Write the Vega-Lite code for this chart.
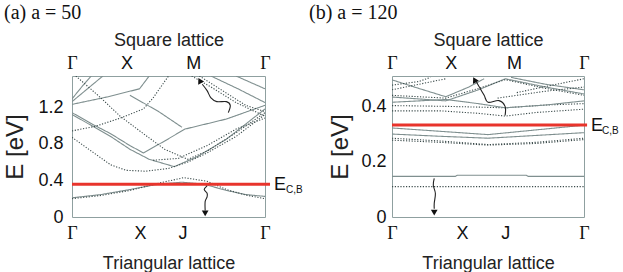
{
  "$schema": "https://vega.github.io/schema/vega-lite/v6.json",
  "padding": {"left": 3, "top": 2, "right": 0, "bottom": 0},
  "spacing": 4,
  "config": {
    "view": {"stroke": "#8fa0a0", "strokeWidth": 1},
    "axis": {"domain": false, "ticks": false, "grid": false, "labelFont": "Liberation Sans", "titleFont": "Liberation Sans", "labelColor": "#111", "titleColor": "#222", "titleFontWeight": "normal", "labelFontSize": 18, "titleFontSize": 18},
    "title": {"font": "Liberation Serif", "fontSize": 20, "fontWeight": "normal", "color": "#111"}
  },
  "datasets": {
    "bands": [
      {"p":"a","b":"s1","k":"s","t":0,"E":0.21},{"p":"a","b":"s1","k":"s","t":0.15,"E":0.245},{"p":"a","b":"s1","k":"s","t":0.3,"E":0.3},{"p":"a","b":"s1","k":"s","t":0.45,"E":0.36},{"p":"a","b":"s1","k":"s","t":0.57,"E":0.38},{"p":"a","b":"s1","k":"s","t":0.68,"E":0.36},{"p":"a","b":"s1","k":"s","t":0.8,"E":0.29},{"p":"a","b":"s1","k":"s","t":0.9,"E":0.245},{"p":"a","b":"s1","k":"s","t":1,"E":0.225},
      {"p":"a","b":"d1","k":"d","t":0,"E":0.2},{"p":"a","b":"d1","k":"d","t":0.15,"E":0.235},{"p":"a","b":"d1","k":"d","t":0.3,"E":0.29},{"p":"a","b":"d1","k":"d","t":0.45,"E":0.37},{"p":"a","b":"d1","k":"d","t":0.58,"E":0.43},{"p":"a","b":"d1","k":"d","t":0.7,"E":0.39},{"p":"a","b":"d1","k":"d","t":0.8,"E":0.3},{"p":"a","b":"d1","k":"d","t":0.9,"E":0.24},{"p":"a","b":"d1","k":"d","t":1,"E":0.2},
      {"p":"a","b":"s2","k":"s","t":0,"E":1.14},{"p":"a","b":"s2","k":"s","t":0.1,"E":1.02},{"p":"a","b":"s2","k":"s","t":0.2,"E":0.91},{"p":"a","b":"s2","k":"s","t":0.3,"E":0.78},{"p":"a","b":"s2","k":"s","t":0.37,"E":0.7},{"p":"a","b":"s2","k":"s","t":0.48,"E":0.83},{"p":"a","b":"s2","k":"s","t":0.585,"E":0.96},{"p":"a","b":"s2","k":"s","t":0.8,"E":1.07},{"p":"a","b":"s2","k":"s","t":1,"E":1.22},
      {"p":"a","b":"s3","k":"s","t":0,"E":1.12},{"p":"a","b":"s3","k":"s","t":0.1,"E":1.0},{"p":"a","b":"s3","k":"s","t":0.2,"E":0.88},{"p":"a","b":"s3","k":"s","t":0.3,"E":0.74},{"p":"a","b":"s3","k":"s","t":0.4,"E":0.63},{"p":"a","b":"s3","k":"s","t":0.53,"E":0.55},{"p":"a","b":"s3","k":"s","t":0.65,"E":0.66},{"p":"a","b":"s3","k":"s","t":0.8,"E":0.85},{"p":"a","b":"s3","k":"s","t":1,"E":1.18},
      {"p":"a","b":"s4","k":"s","t":0,"E":1.23},{"p":"a","b":"s4","k":"s","t":0.18,"E":1.31},{"p":"a","b":"s4","k":"s","t":0.35,"E":1.4},{"p":"a","b":"s4","k":"s","t":0.4,"E":1.54},
      {"p":"a","b":"s5","k":"s","t":0.3,"E":1.33},{"p":"a","b":"s5","k":"s","t":0.45,"E":1.15},{"p":"a","b":"s5","k":"s","t":0.57,"E":0.98},
      {"p":"a","b":"s6","k":"s","t":0,"E":1.26},{"p":"a","b":"s6","k":"s","t":0.08,"E":1.4},{"p":"a","b":"s6","k":"s","t":0.16,"E":1.54},
      {"p":"a","b":"s7","k":"s","t":0,"E":1.29},{"p":"a","b":"s7","k":"s","t":0.05,"E":1.42},{"p":"a","b":"s7","k":"s","t":0.1,"E":1.54},
      {"p":"a","b":"s8","k":"s","t":0.72,"E":1.54},{"p":"a","b":"s8","k":"s","t":0.86,"E":1.4},{"p":"a","b":"s8","k":"s","t":1,"E":1.25},
      {"p":"a","b":"s9","k":"s","t":0.85,"E":1.54},{"p":"a","b":"s9","k":"s","t":1,"E":1.4},
      {"p":"a","b":"d2","k":"d","t":0,"E":0.94},{"p":"a","b":"d2","k":"d","t":0.12,"E":0.99},{"p":"a","b":"d2","k":"d","t":0.25,"E":1.08},{"p":"a","b":"d2","k":"d","t":0.37,"E":1.18},{"p":"a","b":"d2","k":"d","t":0.42,"E":1.3},{"p":"a","b":"d2","k":"d","t":0.5,"E":1.54},
      {"p":"a","b":"d3","k":"d","t":0,"E":0.87},{"p":"a","b":"d3","k":"d","t":0.1,"E":0.72},{"p":"a","b":"d3","k":"d","t":0.2,"E":0.57},{"p":"a","b":"d3","k":"d","t":0.28,"E":0.51},{"p":"a","b":"d3","k":"d","t":0.38,"E":0.5},{"p":"a","b":"d3","k":"d","t":0.5,"E":0.53},{"p":"a","b":"d3","k":"d","t":0.6,"E":0.6},{"p":"a","b":"d3","k":"d","t":0.7,"E":0.7},{"p":"a","b":"d3","k":"d","t":0.85,"E":0.88},{"p":"a","b":"d3","k":"d","t":1,"E":1.12},
      {"p":"a","b":"d4","k":"d","t":0.02,"E":1.54},{"p":"a","b":"d4","k":"d","t":0.15,"E":1.3},{"p":"a","b":"d4","k":"d","t":0.25,"E":1.1},{"p":"a","b":"d4","k":"d","t":0.37,"E":0.91},{"p":"a","b":"d4","k":"d","t":0.48,"E":0.74},{"p":"a","b":"d4","k":"d","t":0.6,"E":0.63},{"p":"a","b":"d4","k":"d","t":0.7,"E":0.72},{"p":"a","b":"d4","k":"d","t":0.85,"E":0.92},{"p":"a","b":"d4","k":"d","t":1,"E":1.14},
      {"p":"a","b":"d6","k":"d","t":0.62,"E":1.54},{"p":"a","b":"d6","k":"d","t":0.72,"E":1.42},{"p":"a","b":"d6","k":"d","t":0.85,"E":1.25},{"p":"a","b":"d6","k":"d","t":1,"E":1.1},
      {"p":"a","b":"d7","k":"d","t":0.66,"E":1.54},{"p":"a","b":"d7","k":"d","t":0.78,"E":1.38},{"p":"a","b":"d7","k":"d","t":0.9,"E":1.22},{"p":"a","b":"d7","k":"d","t":1,"E":1.15},
      {"p":"a","b":"d8","k":"d","t":0.42,"E":0.62},{"p":"a","b":"d8","k":"d","t":0.55,"E":0.64},{"p":"a","b":"d8","k":"d","t":0.7,"E":0.78},{"p":"a","b":"d8","k":"d","t":0.85,"E":0.96},{"p":"a","b":"d8","k":"d","t":1,"E":1.08},

      {"p":"b","b":"s1","k":"s","t":0,"E":0.147},{"p":"b","b":"s1","k":"s","t":0.33,"E":0.147},{"p":"b","b":"s1","k":"s","t":0.34,"E":0.151},{"p":"b","b":"s1","k":"s","t":0.7,"E":0.151},{"p":"b","b":"s1","k":"s","t":0.71,"E":0.147},{"p":"b","b":"s1","k":"s","t":1,"E":0.147},
      {"p":"b","b":"d1","k":"d","t":0,"E":0.11},{"p":"b","b":"d1","k":"d","t":1,"E":0.11},
      {"p":"b","b":"s2","k":"s","t":0,"E":0.322},{"p":"b","b":"s2","k":"s","t":0.25,"E":0.31},{"p":"b","b":"s2","k":"s","t":0.5,"E":0.298},{"p":"b","b":"s2","k":"s","t":0.75,"E":0.315},{"p":"b","b":"s2","k":"s","t":1,"E":0.332},
      {"p":"b","b":"s3","k":"s","t":0,"E":0.3},{"p":"b","b":"s3","k":"s","t":0.25,"E":0.292},{"p":"b","b":"s3","k":"s","t":0.5,"E":0.285},{"p":"b","b":"s3","k":"s","t":0.75,"E":0.295},{"p":"b","b":"s3","k":"s","t":1,"E":0.305},
      {"p":"b","b":"d2","k":"d","t":0,"E":0.285},{"p":"b","b":"d2","k":"d","t":0.25,"E":0.275},{"p":"b","b":"d2","k":"d","t":0.5,"E":0.262},{"p":"b","b":"d2","k":"d","t":0.75,"E":0.27},{"p":"b","b":"d2","k":"d","t":1,"E":0.285},
      {"p":"b","b":"d3","k":"d","t":0,"E":0.278},{"p":"b","b":"d3","k":"d","t":0.25,"E":0.27},{"p":"b","b":"d3","k":"d","t":0.5,"E":0.26},{"p":"b","b":"d3","k":"d","t":0.75,"E":0.266},{"p":"b","b":"d3","k":"d","t":1,"E":0.28},
      {"p":"b","b":"d4","k":"d","t":0,"E":0.384},{"p":"b","b":"d4","k":"d","t":0.25,"E":0.384},{"p":"b","b":"d4","k":"d","t":0.45,"E":0.375},{"p":"b","b":"d4","k":"d","t":0.59,"E":0.365},{"p":"b","b":"d4","k":"d","t":0.75,"E":0.378},{"p":"b","b":"d4","k":"d","t":1,"E":0.39},
      {"p":"b","b":"d5","k":"d","t":0,"E":0.403},{"p":"b","b":"d5","k":"d","t":0.3,"E":0.4},{"p":"b","b":"d5","k":"d","t":0.59,"E":0.395},{"p":"b","b":"d5","k":"d","t":0.8,"E":0.405},{"p":"b","b":"d5","k":"d","t":1,"E":0.41},
      {"p":"b","b":"s4","k":"s","t":0,"E":0.415},{"p":"b","b":"s4","k":"s","t":0.28,"E":0.425},{"p":"b","b":"s4","k":"s","t":0.45,"E":0.41},{"p":"b","b":"s4","k":"s","t":0.59,"E":0.395},{"p":"b","b":"s4","k":"s","t":0.8,"E":0.405},{"p":"b","b":"s4","k":"s","t":1,"E":0.42},
      {"p":"b","b":"s5","k":"s","t":0,"E":0.434},{"p":"b","b":"s5","k":"s","t":0.28,"E":0.42},{"p":"b","b":"s5","k":"s","t":0.45,"E":0.46},{"p":"b","b":"s5","k":"s","t":0.59,"E":0.5},{"p":"b","b":"s5","k":"s","t":0.8,"E":0.47},{"p":"b","b":"s5","k":"s","t":1,"E":0.445},
      {"p":"b","b":"d6","k":"d","t":0,"E":0.44},{"p":"b","b":"d6","k":"d","t":0.28,"E":0.43},{"p":"b","b":"d6","k":"d","t":0.45,"E":0.465},{"p":"b","b":"d6","k":"d","t":0.59,"E":0.497},{"p":"b","b":"d6","k":"d","t":0.8,"E":0.465},{"p":"b","b":"d6","k":"d","t":1,"E":0.44},
      {"p":"b","b":"s6","k":"s","t":0,"E":0.496},{"p":"b","b":"s6","k":"s","t":0.14,"E":0.465},{"p":"b","b":"s6","k":"s","t":0.28,"E":0.435},{"p":"b","b":"s6","k":"s","t":0.4,"E":0.47},{"p":"b","b":"s6","k":"s","t":0.48,"E":0.5},
      {"p":"b","b":"d7","k":"d","t":0,"E":0.477},{"p":"b","b":"d7","k":"d","t":0.14,"E":0.49},{"p":"b","b":"d7","k":"d","t":0.2,"E":0.505},
      {"p":"b","b":"d8","k":"d","t":0,"E":0.46},{"p":"b","b":"d8","k":"d","t":0.14,"E":0.48},{"p":"b","b":"d8","k":"d","t":0.28,"E":0.5},
      {"p":"b","b":"s7","k":"s","t":0.62,"E":0.505},{"p":"b","b":"s7","k":"s","t":0.8,"E":0.48},{"p":"b","b":"s7","k":"s","t":1,"E":0.46},
      {"p":"b","b":"d9","k":"d","t":0.65,"E":0.45},{"p":"b","b":"d9","k":"d","t":0.82,"E":0.475},{"p":"b","b":"d9","k":"d","t":1,"E":0.5},
      {"p":"b","b":"d10","k":"d","t":0.55,"E":0.43},{"p":"b","b":"d10","k":"d","t":0.8,"E":0.455},{"p":"b","b":"d10","k":"d","t":1,"E":0.47}
    ],
    "arrows": [
      {"p":"a","id":"u","i":0,"t":0.81,"E":1.14},{"p":"a","id":"u","i":1,"t":0.82,"E":1.22},{"p":"a","id":"u","i":2,"t":0.8,"E":1.26},{"p":"a","id":"u","i":3,"t":0.75,"E":1.26},{"p":"a","id":"u","i":4,"t":0.72,"E":1.3},{"p":"a","id":"u","i":5,"t":0.7,"E":1.38},{"p":"a","id":"u","i":6,"t":0.675,"E":1.45},
      {"p":"a","id":"d","i":0,"t":0.7,"E":0.34},{"p":"a","id":"d","i":1,"t":0.685,"E":0.3},{"p":"a","id":"d","i":2,"t":0.7,"E":0.26},{"p":"a","id":"d","i":3,"t":0.7,"E":0.22},{"p":"a","id":"d","i":4,"t":0.69,"E":0.17},{"p":"a","id":"d","i":5,"t":0.69,"E":0.07},
      {"p":"b","id":"u","i":0,"t":0.589,"E":0.367},{"p":"b","id":"u","i":1,"t":0.589,"E":0.4},{"p":"b","id":"u","i":2,"t":0.557,"E":0.421},{"p":"b","id":"u","i":3,"t":0.5,"E":0.415},{"p":"b","id":"u","i":4,"t":0.48,"E":0.44},{"p":"b","id":"u","i":5,"t":0.455,"E":0.47},{"p":"b","id":"u","i":6,"t":0.44,"E":0.488},
      {"p":"b","id":"d","i":0,"t":0.22,"E":0.14},{"p":"b","id":"d","i":1,"t":0.215,"E":0.115},{"p":"b","id":"d","i":2,"t":0.226,"E":0.085},{"p":"b","id":"d","i":3,"t":0.22,"E":0.05},{"p":"b","id":"d","i":4,"t":0.22,"E":0.03}
    ],
    "heads": [
      {"p":"a","dir":"up","t":0.662,"E":1.49},
      {"p":"a","dir":"down","t":0.69,"E":0.04},
      {"p":"b","dir":"up","t":0.43,"E":0.496},
      {"p":"b","dir":"down","t":0.22,"E":0.016}
    ],
    "ref": [
      {"p":"a","x1":0,"x2":1.026,"E":0.357},
      {"p":"b","x1":0,"x2":1.016,"E":0.333}
    ]
  },
  "hconcat": [
    {
      "title": {"text": "(a) a = 50", "anchor": "start", "frame": "bounds", "offset": 8},
      "width": 193,
      "height": 141,
      "resolve": {"axis": {"x": "independent"}},
      "layer": [
        {
          "data": {"name": "bands"},
          "transform": [{"filter": "datum.p == 'a'"}],
          "mark": {"type": "line", "strokeWidth": 1.1, "clip": true},
          "encoding": {
            "x": {"field": "t", "type": "quantitative", "scale": {"domain": [0, 1], "nice": false},
              "axis": {"orient": "bottom", "values": [0, 0.352, 0.573, 1], "labelExpr": "datum.value == 0 || datum.value == 1 ? 'Γ' : datum.value < 0.45 ? 'X' : 'J'", "labelFont": {"condition": {"test": "datum.value == 0 || datum.value == 1", "value": "Liberation Serif"}, "value": "Liberation Sans"}, "labelFlush": false, "labelPadding": 7, "title": "Triangular lattice", "titlePadding": 12}},
            "y": {"field": "E", "type": "quantitative", "scale": {"domain": [0, 1.54], "nice": false, "zero": false},
              "axis": {"values": [0, 0.4, 0.8, 1.2], "labelExpr": "datum.value == 0 ? '0' : format(datum.value, '.1f')", "labelPadding": 9, "title": "E [eV]", "titleFontSize": 24, "titlePadding": 10}},
            "detail": {"field": "b"},
            "color": {"field": "k", "type": "nominal", "scale": {"domain": ["s", "d"], "range": ["#7f8f8f", "#3c4c4c"]}, "legend": null},
            "strokeDash": {"field": "k", "type": "nominal", "scale": {"domain": ["s", "d"], "range": [[1, 0], [1.2, 1.6]]}, "legend": null}
          }
        },
        {
          "data": {"name": "ref"},
          "transform": [{"filter": "datum.p == 'a'"}],
          "mark": {"type": "rule", "color": "#e8342c", "strokeWidth": 3, "clip": false},
          "encoding": {
            "x": {"field": "x1", "type": "quantitative",
              "axis": {"orient": "top", "values": [0, 0.283, 0.628, 1], "labelExpr": "datum.value == 0 || datum.value == 1 ? 'Γ' : datum.value < 0.45 ? 'X' : 'M'", "labelFont": {"condition": {"test": "datum.value == 0 || datum.value == 1", "value": "Liberation Serif"}, "value": "Liberation Sans"}, "labelFlush": false, "labelPadding": 4, "title": "Square lattice", "titlePadding": 5}},
            "x2": {"field": "x2"},
            "y": {"field": "E", "type": "quantitative"}
          }
        },
        {
          "data": {"name": "arrows"},
          "transform": [{"filter": "datum.p == 'a'"}],
          "mark": {"type": "line", "interpolate": "cardinal", "color": "#222", "strokeWidth": 1.1},
          "encoding": {
            "x": {"field": "t", "type": "quantitative", "axis": null},
            "y": {"field": "E", "type": "quantitative"},
            "detail": {"field": "id"},
            "order": {"field": "i"}
          }
        },
        {
          "data": {"name": "heads"},
          "transform": [{"filter": "datum.p == 'a'"}],
          "mark": {"type": "point", "filled": true, "color": "#111", "opacity": 1, "size": 45},
          "encoding": {
            "x": {"field": "t", "type": "quantitative", "axis": null},
            "y": {"field": "E", "type": "quantitative"},
            "shape": {"field": "dir", "type": "nominal", "scale": {"domain": ["up", "down"], "range": ["triangle-up", "triangle-down"]}, "legend": null},
            "angle": {"field": "dir", "type": "nominal", "scale": {"domain": ["up", "down"], "range": [-28, 0]}, "legend": null}
          }
        },
        {
          "data": {"name": "ref"},
          "transform": [{"filter": "datum.p == 'a'"}],
          "mark": {"type": "text", "text": "E", "align": "left", "baseline": "middle", "dx": 4, "dy": 1, "fontSize": 18, "font": "Liberation Sans", "color": "#111", "clip": false},
          "encoding": {"x": {"field": "x2", "type": "quantitative", "axis": null}, "y": {"field": "E", "type": "quantitative"}}
        },
        {
          "data": {"name": "ref"},
          "transform": [{"filter": "datum.p == 'a'"}],
          "mark": {"type": "text", "text": "C,B", "align": "left", "baseline": "middle", "dx": 16, "dy": 6, "fontSize": 10, "font": "Liberation Sans", "color": "#111", "clip": false},
          "encoding": {"x": {"field": "x2", "type": "quantitative", "axis": null}, "y": {"field": "E", "type": "quantitative"}}
        }
      ]
    },
    {
      "title": {"text": "(b) a = 120", "anchor": "start", "frame": "bounds", "offset": 8, "dx": -20},
      "width": 192,
      "height": 141,
      "resolve": {"axis": {"x": "independent"}},
      "layer": [
        {
          "data": {"name": "bands"},
          "transform": [{"filter": "datum.p == 'b'"}],
          "mark": {"type": "line", "strokeWidth": 1.1, "clip": true},
          "encoding": {
            "x": {"field": "t", "type": "quantitative", "scale": {"domain": [0, 1], "nice": false},
              "axis": {"orient": "bottom", "values": [0, 0.365, 0.59, 1], "labelExpr": "datum.value == 0 || datum.value == 1 ? 'Γ' : datum.value < 0.45 ? 'X' : 'J'", "labelFont": {"condition": {"test": "datum.value == 0 || datum.value == 1", "value": "Liberation Serif"}, "value": "Liberation Sans"}, "labelFlush": false, "labelPadding": 7, "title": "Triangular lattice", "titlePadding": 12}},
            "y": {"field": "E", "type": "quantitative", "scale": {"domain": [0, 0.51], "nice": false, "zero": false},
              "axis": {"values": [0, 0.2, 0.4], "labelExpr": "datum.value == 0 ? '0' : format(datum.value, '.1f')", "labelPadding": 6, "title": "E [eV]", "titleFontSize": 24, "titlePadding": 8}},
            "detail": {"field": "b"},
            "color": {"field": "k", "type": "nominal", "scale": {"domain": ["s", "d"], "range": ["#7f8f8f", "#3c4c4c"]}, "legend": null},
            "strokeDash": {"field": "k", "type": "nominal", "scale": {"domain": ["s", "d"], "range": [[1, 0], [1.2, 1.6]]}, "legend": null}
          }
        },
        {
          "data": {"name": "ref"},
          "transform": [{"filter": "datum.p == 'b'"}],
          "mark": {"type": "rule", "color": "#e8342c", "strokeWidth": 3, "clip": false},
          "encoding": {
            "x": {"field": "x1", "type": "quantitative",
              "axis": {"orient": "top", "values": [0, 0.306, 0.635, 1], "labelExpr": "datum.value == 0 || datum.value == 1 ? 'Γ' : datum.value < 0.45 ? 'X' : 'M'", "labelFont": {"condition": {"test": "datum.value == 0 || datum.value == 1", "value": "Liberation Serif"}, "value": "Liberation Sans"}, "labelFlush": false, "labelPadding": 4, "title": "Square lattice", "titlePadding": 5}},
            "x2": {"field": "x2"},
            "y": {"field": "E", "type": "quantitative"}
          }
        },
        {
          "data": {"name": "arrows"},
          "transform": [{"filter": "datum.p == 'b'"}],
          "mark": {"type": "line", "interpolate": "cardinal", "color": "#222", "strokeWidth": 1.1},
          "encoding": {
            "x": {"field": "t", "type": "quantitative", "axis": null},
            "y": {"field": "E", "type": "quantitative"},
            "detail": {"field": "id"},
            "order": {"field": "i"}
          }
        },
        {
          "data": {"name": "heads"},
          "transform": [{"filter": "datum.p == 'b'"}],
          "mark": {"type": "point", "filled": true, "color": "#111", "opacity": 1, "size": 45},
          "encoding": {
            "x": {"field": "t", "type": "quantitative", "axis": null},
            "y": {"field": "E", "type": "quantitative"},
            "shape": {"field": "dir", "type": "nominal", "scale": {"domain": ["up", "down"], "range": ["triangle-up", "triangle-down"]}, "legend": null},
            "angle": {"field": "dir", "type": "nominal", "scale": {"domain": ["up", "down"], "range": [-28, 0]}, "legend": null}
          }
        },
        {
          "data": {"name": "ref"},
          "transform": [{"filter": "datum.p == 'b'"}],
          "mark": {"type": "text", "text": "E", "align": "left", "baseline": "middle", "dx": 4, "dy": 1, "fontSize": 18, "font": "Liberation Sans", "color": "#111", "clip": false},
          "encoding": {"x": {"field": "x2", "type": "quantitative", "axis": null}, "y": {"field": "E", "type": "quantitative"}}
        },
        {
          "data": {"name": "ref"},
          "transform": [{"filter": "datum.p == 'b'"}],
          "mark": {"type": "text", "text": "C,B", "align": "left", "baseline": "middle", "dx": 15, "dy": 6, "fontSize": 10, "font": "Liberation Sans", "color": "#111", "clip": false},
          "encoding": {"x": {"field": "x2", "type": "quantitative", "axis": null}, "y": {"field": "E", "type": "quantitative"}}
        }
      ]
    }
  ]
}
